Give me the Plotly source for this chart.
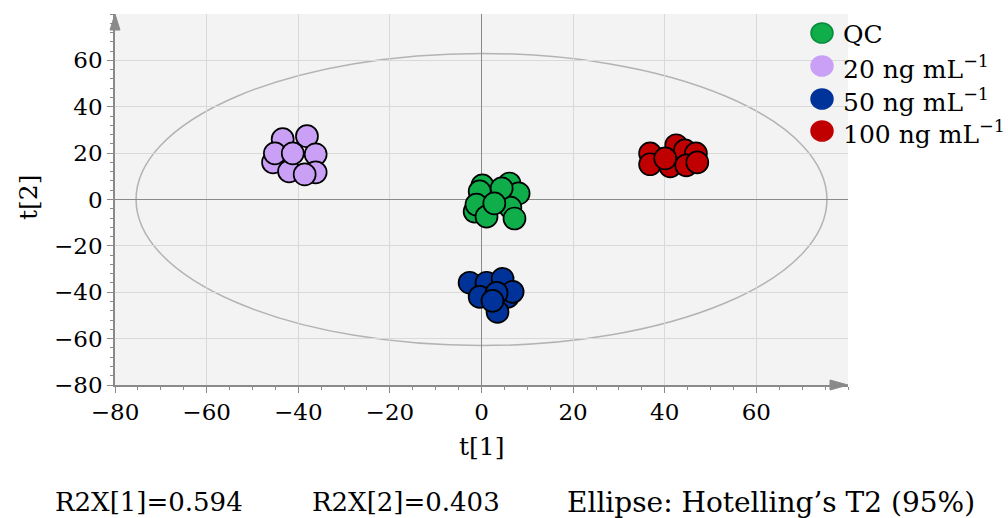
import plotly.graph_objects as go

# PCA score coordinates (t[1], t[2]) per sample group
groups = ["QC", "20 ng mL<sup>−1</sup>", "50 ng mL<sup>−1</sup>", "100 ng mL<sup>−1</sup>"]
colors = ["#0fae4b", "#c9a0f5", "#003399", "#c00000"]
legend_line = ["#0a8a3a", "#c9a0f5", "#003399", "#c00000"]

qc_t1 = [0.2, 6.1, -0.4, 8.1, -1.5, -1.1, 6.3, 7.2, 1.1, 4.4, 2.8]
qc_t2 = [6.1, 6.9, 3.5, 2.6, -5.2, -2.2, -3.5, -8.2, -7.4, 4.8, -1.7]

c20_t1 = [-43.4, -38.1, -45.5, -45.1, -36.2, -36.2, -42.0, -41.2, -38.6]
c20_t2 = [26.0, 27.3, 16.0, 19.9, 19.5, 11.7, 12.1, 19.9, 10.8]

c50_t1 = [-2.6, 1.1, 4.6, 5.7, 6.8, 3.5, -0.4, 3.3, 2.4]
c50_t2 = [-35.9, -35.9, -34.2, -42.0, -39.8, -48.5, -42.0, -40.3, -43.7]

c100_t1 = [42.5, 44.4, 46.8, 36.8, 36.8, 41.2, 44.7, 47.1, 40.1]
c100_t2 = [23.4, 21.2, 19.9, 19.9, 15.2, 14.3, 14.7, 16.0, 17.7]

# Hotelling's T2 (95%) ellipse semi-axes
ellipse_a = 75.4
ellipse_b = 63.0

x_ticks = [-80, -60, -40, -20, 0, 20, 40, 60]
y_ticks = [-80, -60, -40, -20, 0, 20, 40, 60]

summary = ["R2X[1]=0.594", "R2X[2]=0.403", "Ellipse: Hotelling’s T2 (95%)"]

FONT = "DejaVu Serif"
AXIS = "#8a8a8a"

# plot-area geometry in pixels
L, R, T, B = 115, 848, 14, 385
PW, PH = R - L, B - T


def px_x(p):
    return (p - L) / PW


def px_y(p):
    return (B - p) / PH


fig = go.Figure()

series = [(qc_t1, qc_t2), (c20_t1, c20_t2), (c50_t1, c50_t2), (c100_t1, c100_t2)]
for name, (xs, ys), col in zip(groups, series, colors):
    fig.add_trace(go.Scatter(
        x=xs, y=ys, mode="markers", name=name, showlegend=False,
        marker=dict(size=22, color=col, line=dict(color="black", width=1.7)),
    ))

shapes = []
shapes.append(dict(type="circle", xref="x", yref="y",
                   x0=-ellipse_a, x1=ellipse_a, y0=-ellipse_b, y1=ellipse_b,
                   line=dict(color="#b3b3b3", width=1.5), layer="below"))

# arrow heads at the ends of both axes (paper coordinates)
aw, ah = 5, 16
shapes.append(dict(type="path", xref="paper", yref="paper",
                   path=f"M{px_x(L - aw)},{px_y(T + ah)} L{px_x(L)},{px_y(T)} L{px_x(L + aw)},{px_y(T + ah)} Z",
                   fillcolor=AXIS, line=dict(color=AXIS, width=1)))
shapes.append(dict(type="path", xref="paper", yref="paper",
                   path=f"M{px_x(R - ah - 2)},{px_y(B - aw)} L{px_x(R)},{px_y(B)} L{px_x(R - ah - 2)},{px_y(B + aw)} Z",
                   fillcolor=AXIS, line=dict(color=AXIS, width=1)))

ann = []
# legend: swatches and labels
leg_y = [33, 66, 99, 131]
for name, col, lc, py in zip(groups, colors, legend_line, leg_y):
    shapes.append(dict(type="circle", xref="paper", yref="paper",
                       xsizemode="pixel", ysizemode="pixel",
                       xanchor=px_x(822), yanchor=px_y(py),
                       x0=-11, x1=11, y0=-10, y1=10,
                       fillcolor=col, line=dict(color=lc, width=1.5)))
    ann.append(dict(text=name, xref="paper", yref="paper", x=px_x(841), y=px_y(py + 1),
                    showarrow=False, font=dict(family=FONT, size=25, color="black"),
                    xanchor="left", yanchor="middle"))

tick_font = dict(family=FONT, size=23, color="black")
fig.update_xaxes(
    range=[-80, 80], tickvals=x_ticks, ticktext=[str(v).replace("-", "−") for v in x_ticks],
    showgrid=True, gridcolor="#d9d9d9", gridwidth=1,
    zeroline=True, zerolinecolor=AXIS, zerolinewidth=1,
    showline=True, linecolor=AXIS, linewidth=1.5,
    ticks="outside", ticklen=6, tickcolor=AXIS, tickfont=tick_font,
    minor=dict(dtick=5, ticks="outside", ticklen=3, tickcolor=AXIS, showgrid=False),
)
fig.update_yaxes(
    range=[-80, 80], tickvals=y_ticks, ticktext=[str(v).replace("-", "−") for v in y_ticks],
    showgrid=True, gridcolor="#d9d9d9", gridwidth=1,
    zeroline=True, zerolinecolor=AXIS, zerolinewidth=1,
    showline=True, linecolor=AXIS, linewidth=1.5,
    ticks="outside", ticklen=6, tickcolor=AXIS, tickfont=tick_font,
    minor=dict(dtick=4, ticks="outside", ticklen=3, tickcolor=AXIS, showgrid=False),
)

ann.append(dict(text="t[1]", xref="paper", yref="paper", x=px_x(481), y=px_y(446),
                showarrow=False, font=dict(family=FONT, size=25, color="black"),
                xanchor="center", yanchor="middle"))
ann.append(dict(text="t[2]", xref="paper", yref="paper", x=px_x(28), y=px_y(198),
                showarrow=False, textangle=-90, font=dict(family=FONT, size=25, color="black"),
                xanchor="center", yanchor="middle"))
for txt, cx, fs in zip(summary, [149, 406, 771], [26, 26, 28]):
    ann.append(dict(text=txt, xref="paper", yref="paper", x=px_x(cx), y=px_y(502),
                    showarrow=False, font=dict(family=FONT, size=fs, color="black"),
                    xanchor="center", yanchor="middle"))

fig.update_layout(
    width=1008, height=518,
    margin=dict(l=L, r=1008 - R, t=T, b=518 - B),
    paper_bgcolor="white", plot_bgcolor="#f3f3f3",
    font=dict(family=FONT, color="black"),
    showlegend=False,
    shapes=shapes,
    annotations=ann,
)

fig.write_html("out.html")
